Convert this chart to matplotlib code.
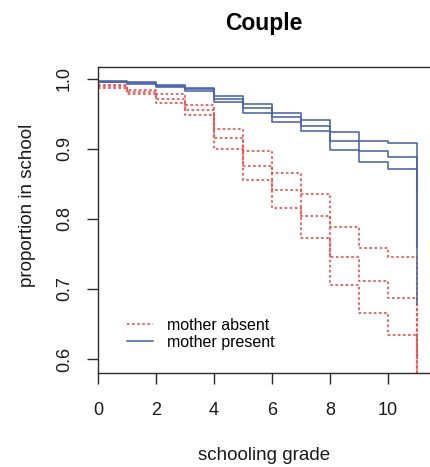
import matplotlib
matplotlib.use("Agg")
import matplotlib.pyplot as plt

plt.rcParams["font.family"] = ["Liberation Sans", "DejaVu Sans"]

# Survival in school by grade, with confidence bounds
grade = [0, 1, 2, 3, 4, 5, 6, 7, 8, 9, 10, 11]

absent_hi = [0.992, 0.984, 0.979, 0.963, 0.929, 0.897, 0.866, 0.836, 0.789, 0.759, 0.745, 0.600]
absent_est = [0.990, 0.981, 0.971, 0.955, 0.915, 0.876, 0.841, 0.804, 0.745, 0.711, 0.687, 0.500]
absent_lo = [0.987, 0.979, 0.965, 0.948, 0.900, 0.856, 0.815, 0.773, 0.705, 0.665, 0.634, 0.400]

present_hi = [0.997, 0.995, 0.992, 0.987, 0.975, 0.964, 0.951, 0.942, 0.924, 0.912, 0.908, 0.840]
present_est = [0.996, 0.994, 0.990, 0.985, 0.971, 0.958, 0.946, 0.933, 0.912, 0.897, 0.889, 0.760]
present_lo = [0.995, 0.993, 0.988, 0.983, 0.967, 0.952, 0.939, 0.925, 0.899, 0.881, 0.872, 0.679]

series_labels = ["mother absent", "mother present"]
x_ticks = [0, 2, 4, 6, 8, 10]
y_ticks = [0.6, 0.7, 0.8, 0.9, 1.0]

RED = "#ff3b3b"
BLUE = "#4a62b4"
AXIS = "#2b2b2b"

fig = plt.figure(figsize=(4.31, 4.67), dpi=100)
ax = fig.add_axes([98 / 431, 1 - 373 / 467, 332 / 431, 306 / 467])

dotted = (0, (1.6, 1.6))
for i, ys in enumerate([absent_hi, absent_est, absent_lo]):
    ax.step(grade, ys, where="post", color=RED, lw=1.15, linestyle=dotted,
            label=series_labels[0] if i == 0 else None)
for i, ys in enumerate([present_hi, present_est, present_lo]):
    ax.step(grade, ys, where="post", color=BLUE, lw=1.15,
            label=series_labels[1] if i == 0 else None)

ax.set_xlim(0, 11.45)
ax.set_ylim(0.58, 1.017)
ax.set_xticks(x_ticks)
ax.set_yticks(y_ticks)
ax.set_yticklabels([f"{v:.1f}" for v in y_ticks])

for side in ["left", "bottom", "top"]:
    ax.spines[side].set_color(AXIS)
    ax.spines[side].set_linewidth(1.0)
ax.spines["right"].set_visible(False)

ax.tick_params(axis="both", direction="out", length=8, width=1.0, color=AXIS,
               labelsize=13, labelcolor="#1a1a1a")
ax.tick_params(axis="x", pad=13)
ax.tick_params(axis="y", pad=10)
for lab in ax.get_yticklabels():
    lab.set_rotation(90)
    lab.set_va("center")

ax.set_title("Couple", fontsize=16.5, fontweight="bold", pad=27)
ax.set_xlabel("schooling grade", fontsize=13.5, color="#1a1a1a")
ax.set_ylabel("proportion in school", fontsize=13.5, color="#1a1a1a")
ax.xaxis.set_label_coords(0.5, (373 - 455) / 306)
ax.xaxis.label.set_va("center")
ax.yaxis.set_label_coords((28 - 98) / 332, (373 - 205) / 306)
ax.yaxis.label.set_va("center")

ax.legend(loc="upper left", bbox_to_anchor=((127 - 98) / 332, (373 - 318) / 306),
          frameon=False, fontsize=11.5, handlelength=1.65, handletextpad=0.85,
          labelspacing=0.1, borderpad=0, borderaxespad=0)

fig.savefig("out.png", dpi=100, facecolor="white")
